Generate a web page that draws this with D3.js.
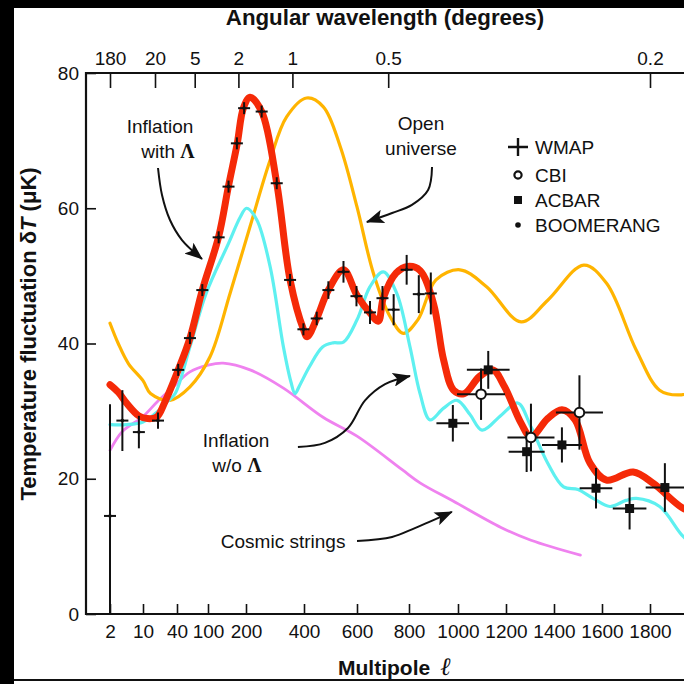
<!DOCTYPE html>
<html>
<head>
<meta charset="utf-8">
<script src="https://cdn.jsdelivr.net/npm/d3@7"></script>
<style>
  body { margin: 0; background: #fff; }
  svg { display: block; }
  text { font-family: "Liberation Sans", Arial, Helvetica, sans-serif; fill: #111; }
</style>
</head>
<body>
<svg id="chart" width="684" height="684"></svg>
<script>
// ---- axis definitions -------------------------------------------------
// The multipole axis is stretched: roughly logarithmic below l = 200, linear above.
const ellKnots      = [2, 10, 20, 30, 40, 60, 80, 100, 200, 400, 600, 800, 1000, 1200, 1400, 1600, 1800];
const ellTickLabels = [2, 10, 40, 100, 200, 400, 600, 800, 1000, 1200, 1400, 1600, 1800];
const ellTicksMinor = [20, 30, 60, 80].concat(d3.range(120, 2001, 20).filter(v => v % 200 !== 0));
const angleTickLabels = [180, 20, 5, 2, 1, 0.5, 0.2];
const angleTicksMinor = [90, 80, 70, 60, 50, 40, 30, 10, 9, 8, 7, 6, 4, 3, 0.9, 0.8, 0.7, 0.6, 0.4, 0.3];
const tempTickLabels = [0, 20, 40, 60, 80];
const tempTicksMinor = [5, 10, 15, 25, 30, 35, 45, 50, 55, 65, 70, 75];

// ---- model curves: multipole l and temperature fluctuation dT (uK) -----
const lambdaEll = [2, 4, 6, 9, 13, 19, 27, 42, 62, 88, 128, 154, 177, 193, 214, 254, 306, 352, 398, 412, 448, 492, 549, 599, 650, 682, 701, 750, 795, 845, 900, 941, 982, 1026, 1089, 1145, 1194, 1263, 1304, 1374, 1433, 1488, 1550, 1619, 1730, 1814, 1940, 2000];
const lambdaDT  = [33.9, 32.8, 31.2, 29.3, 28.9, 29.1, 31.4, 36.1, 40.8, 47.9, 55.8, 63.3, 69.6, 74.8, 76.4, 74.3, 63.7, 49.4, 42.1, 41.0, 43.7, 47.9, 50.9, 47.2, 44.5, 43.3, 46.7, 50.4, 51.4, 50.8, 45.9, 37.6, 33.1, 32.6, 35.1, 36.1, 33.6, 28.2, 26.2, 28.9, 30.2, 28.7, 22.3, 19.8, 21.0, 19.3, 15.6, 15.2];

const noLambdaEll = [2, 6, 10, 20, 30, 38, 62, 96, 154, 185, 202, 237, 283, 329, 355, 369, 385, 421, 470, 510, 549, 600, 650, 701, 753, 804, 845, 886, 940, 996, 1050, 1100, 1180, 1249, 1304, 1374, 1440, 1500, 1563, 1633, 1700, 1743, 1840, 1940, 2000];
const noLambdaDT  = [28.0, 28.0, 28.4, 30.0, 31.5, 32.6, 39.5, 47.4, 54.8, 58.7, 60.0, 58.3, 51.4, 39.5, 34.3, 32.6, 33.8, 36.6, 39.5, 40.1, 40.2, 43.5, 48.4, 50.6, 47.4, 39.5, 32.6, 28.7, 30.4, 31.6, 29.5, 27.2, 29.4, 31.2, 27.7, 22.3, 18.8, 18.4, 17.1, 15.9, 16.8, 17.1, 15.9, 11.4, 10.0];

const openEll = [2, 4, 6.5, 10, 15, 32, 62, 105, 158, 214, 283, 340, 410, 473, 537, 600, 663, 727, 778, 836, 910, 1008, 1119, 1263, 1374, 1524, 1619, 1743, 1840, 1922, 2000];
const openDT  = [43.0, 40.0, 37.0, 34.5, 32.6, 31.6, 33.6, 38.0, 47.4, 57.3, 67.1, 73.5, 76.3, 75.0, 69.1, 60.2, 50.4, 44.0, 41.5, 43.5, 49.4, 50.9, 48.4, 43.2, 46.4, 51.6, 48.9, 39.0, 33.1, 32.4, 33.2];

const stringsEll = [2, 5, 10, 20, 36, 62, 100, 140, 214, 329, 472, 600, 775, 845, 980, 1179, 1304, 1510];
const stringsDT  = [24.2, 27.0, 29.2, 31.5, 33.6, 35.8, 36.8, 37.1, 36.1, 33.4, 29.1, 26.3, 21.3, 19.4, 16.7, 12.8, 10.9, 8.7];

// ---- measurements --------------------------------------------------------
const wmapEll = [2, 5, 9, 20, 42, 62, 88, 128, 154, 176, 195, 254, 306, 352, 398, 448, 492, 549, 598, 650, 698, 741, 791, 840, 889];
const wmapDT  = [14.5, 28.6, 26.9, 28.6, 36.1, 40.8, 47.9, 55.7, 63.2, 69.6, 74.8, 74.3, 63.7, 49.4, 42.1, 43.7, 47.9, 50.6, 47.0, 44.6, 46.7, 45.0, 50.9, 47.3, 47.4];
const wmapErr = [16.5, 4.5, 2.4, 1.2, 0.8, 0.8, 0.8, 0.8, 0.8, 0.8, 0.8, 0.7, 0.8, 0.8, 0.8, 1.0, 1.3, 1.6, 1.5, 1.7, 1.8, 2.3, 2.2, 2.8, 3.1];

const cbiEll = [1096, 1304, 1506];
const cbiDT  = [32.5, 26.1, 29.8];
const cbiErr = [3.8, 5.0, 5.5];
const cbiBin = [100, 98, 98];

const acbarEll = [979, 1126, 1286, 1433, 1575, 1715, 1862];
const acbarDT  = [28.2, 36.1, 24.0, 25.0, 18.6, 15.6, 18.7];
const acbarErr = [2.7, 2.8, 3.0, 2.6, 3.0, 3.1, 3.6];
const acbarBin = [67, 89, 75, 83, 68, 70, 80];

const legendNames = ["WMAP", "CBI", "ACBAR", "BOOMERANG"];

// ---- annotations, anchored in (l, dT) ------------------------------------
const notes = [
  { lines: ["Inflation", "with |Λ"], at: [[22, 71.1], [30, 67.4]] },
  { lines: ["Open", "universe"], at: [[849, 71.6], [849, 67.9]] },
  { lines: ["Inflation", "w/o |Λ"], at: [[174, 24.7], [176, 21.0]] },
  { lines: ["Cosmic strings"], at: [[328, 9.8]] }
];
const arrows = [
  [[20, 65.95], [24, 61.96], [32.2, 58.26], [48.3, 55.3], [87.4, 52.5]],
  [[894, 66.1], [878, 62.7], [812, 60.5], [735, 59.3], [638, 57.97]],
  [[379, 24.7], [479, 25.3], [566, 27.5], [631, 31.6], [708, 34.0], [804, 35.2]],
  [[600, 10.8], [735, 11.4], [824, 12.7], [975, 15.1]]
];

// ---- layout ----------------------------------------------------------------
const W = 684, H = 684;
const plotLeft = 86, plotTop = 73, plotBottom = 614;
const svg = d3.select("#chart");

const x = d3.scaleLinear()
  .domain(ellKnots)
  .range([110, 143, 158, 168, 177, 189, 198.5, 208, 246, 304, 357, 409, 458, 506, 554, 602, 650]);
const y = d3.scaleLinear().domain([0, 80]).range([plotBottom, plotTop]);

svg.append("rect").attr("width", W).attr("height", H).attr("fill", "#fff");

// axes (ticks point into the plot)
const gx = svg.append("g").attr("transform", `translate(0,${plotBottom})`);
gx.call(d3.axisBottom(x).tickValues(ellTicksMinor).tickSize(-5).tickFormat(""));
gx.call(d3.axisBottom(x).tickValues(ellTickLabels).tickSize(-10).tickPadding(11).tickFormat(d3.format("d")));

const gt = svg.append("g").attr("transform", `translate(0,${plotTop})`);
gt.call(d3.axisTop(x).tickValues(angleTicksMinor.map(a => 360 / a)).tickSize(-7).tickFormat(""));
gt.call(d3.axisTop(x).tickValues(angleTickLabels.map(a => 360 / a)).tickSize(-15).tickPadding(8)
  .tickFormat(l => String(+(360 / l).toFixed(1))));

const gy = svg.append("g").attr("transform", `translate(${plotLeft},0)`);
gy.call(d3.axisLeft(y).tickValues(tempTicksMinor).tickSize(-7).tickFormat(""));
gy.call(d3.axisLeft(y).tickValues(tempTickLabels).tickSize(-10).tickPadding(7));

svg.selectAll(".domain").remove();
svg.selectAll(".tick line").attr("stroke", "#111").attr("stroke-width", 1.6);
svg.selectAll(".tick text").attr("font-size", 19).attr("font-family", "Liberation Sans, Arial, sans-serif").attr("fill", "#111");

// frame
svg.append("path")
  .attr("d", `M${W + 10},${plotTop}H${plotLeft}V${plotBottom}H${W + 10}`)
  .attr("stroke", "#111").attr("stroke-width", 2.2).attr("fill", "none");

// axis titles
svg.append("text").attr("x", 385).attr("y", 25).attr("text-anchor", "middle")
  .attr("font-size", 22.3).attr("font-weight", "bold").text("Angular wavelength (degrees)");

const xt = svg.append("text").attr("x", 338).attr("y", 675)
  .attr("font-size", 21).attr("font-weight", "bold");
xt.append("tspan").text("Multipole ");
xt.append("tspan").attr("font-family", "DejaVu Serif, serif").attr("font-style", "italic")
  .attr("font-weight", "normal").attr("font-size", 25).attr("dx", 4).text("ℓ");

const yt = svg.append("text").attr("transform", "translate(36,334) rotate(-90)")
  .attr("text-anchor", "middle").attr("font-size", 22).attr("font-weight", "bold");
yt.append("tspan").text("Temperature fluctuation δ");
yt.append("tspan").attr("font-style", "italic").text("T");
yt.append("tspan").text(" (μK)");

// model curves
const line = d3.line().x(d => x(d[0])).y(d => y(d[1])).curve(d3.curveCatmullRom.alpha(0.5));
const curves = [
  { ell: stringsEll, dT: stringsDT, color: "#ef82ef", w: 2.8 },
  { ell: openEll, dT: openDT, color: "#ffb400", w: 3.2 },
  { ell: noLambdaEll, dT: noLambdaDT, color: "#5ef0f0", w: 3.2 },
  { ell: lambdaEll, dT: lambdaDT, color: "#f52a08", w: 7 }
];
curves.forEach(c => {
  svg.append("path")
    .datum(d3.zip(c.ell, c.dT))
    .attr("d", line)
    .attr("fill", "none")
    .attr("stroke", c.color)
    .attr("stroke-width", c.w)
    .attr("stroke-linejoin", "round")
    .attr("stroke-linecap", "round");
});

// measurements
const pts = svg.append("g").attr("stroke", "#111").attr("stroke-width", 2);

// WMAP: crosses
d3.zip(wmapEll, wmapDT, wmapErr).forEach(([l, t, e]) => {
  const cx = x(l), cy = y(t);
  const up = Math.max(cy - y(t + e), 6), dn = Math.max(y(Math.max(t - e, 0)) - cy, 6);
  pts.append("line").attr("x1", cx - 6).attr("x2", cx + 6).attr("y1", cy).attr("y2", cy);
  pts.append("line").attr("x1", cx).attr("x2", cx).attr("y1", cy - up).attr("y2", cy + dn);
  pts.append("circle").attr("cx", cx).attr("cy", cy).attr("r", 1.8).attr("fill", "#111").attr("stroke", "none");
});

// error bars for CBI and ACBAR
function errorBars(ells, dts, errs, bins) {
  d3.zip(ells, dts, errs, bins).forEach(([l, t, e, b]) => {
    pts.append("line").attr("x1", x(l - b)).attr("x2", x(l + b)).attr("y1", y(t)).attr("y2", y(t));
    pts.append("line").attr("x1", x(l)).attr("x2", x(l)).attr("y1", y(t + e)).attr("y2", y(t - e));
  });
}
errorBars(acbarEll, acbarDT, acbarErr, acbarBin);
errorBars(cbiEll, cbiDT, cbiErr, cbiBin);

d3.zip(acbarEll, acbarDT).forEach(([l, t]) => {
  pts.append("rect").attr("x", x(l) - 4.5).attr("y", y(t) - 4.5).attr("width", 9).attr("height", 9)
    .attr("fill", "#111").attr("stroke", "none");
});
d3.zip(cbiEll, cbiDT).forEach(([l, t]) => {
  pts.append("circle").attr("cx", x(l)).attr("cy", y(t)).attr("r", 4.8)
    .attr("fill", "#fff").attr("stroke", "#111").attr("stroke-width", 2);
});

// legend
const lg = svg.append("g").attr("transform", "translate(518,147)");
const rowY = [0, 28, 53, 78];
lg.append("path").attr("d", "M-10,0H10M0,-9V9").attr("stroke", "#111").attr("stroke-width", 2.4);
lg.append("circle").attr("cy", rowY[1]).attr("r", 3.6).attr("fill", "#fff").attr("stroke", "#111").attr("stroke-width", 2.2);
lg.append("rect").attr("x", -4).attr("y", rowY[2] - 4).attr("width", 8).attr("height", 8).attr("fill", "#111");
lg.append("circle").attr("cy", rowY[3]).attr("r", 2.8).attr("fill", "#111");
legendNames.forEach((n, i) => {
  lg.append("text").attr("x", 17).attr("y", rowY[i] + 7).attr("font-size", 19).text(n);
});

// annotation text
notes.forEach(n => {
  n.lines.forEach((s, i) => {
    const t = svg.append("text").attr("x", x(n.at[i][0])).attr("y", y(n.at[i][1]))
      .attr("text-anchor", "middle").attr("font-size", 19);
    const parts = s.split("|");
    t.append("tspan").text(parts[0]);
    if (parts[1]) {
      t.append("tspan").attr("font-family", "Liberation Serif, serif").attr("font-weight", "bold")
        .attr("font-size", 20).text(parts[1]);
    }
  });
});

// arrows
svg.append("defs").append("marker")
  .attr("id", "head").attr("viewBox", "0 0 18 14").attr("refX", 17).attr("refY", 7)
  .attr("markerWidth", 18).attr("markerHeight", 14).attr("markerUnits", "userSpaceOnUse")
  .attr("orient", "auto")
  .append("path").attr("d", "M0,0L18,7L0,14L4,7Z").attr("fill", "#111");

const arrowLine = d3.line().x(d => x(d[0])).y(d => y(d[1])).curve(d3.curveCatmullRom.alpha(0.5));
arrows.forEach(a => {
  svg.append("path").attr("d", arrowLine(a)).attr("fill", "none")
    .attr("stroke", "#111").attr("stroke-width", 2).attr("marker-end", "url(#head)");
});

// dark edges of the scanned page
svg.append("rect").attr("x", 0).attr("y", 0).attr("width", W).attr("height", 8).attr("fill", "#000");
svg.append("rect").attr("x", 0).attr("y", 0).attr("width", 14).attr("height", H).attr("fill", "#000");
svg.append("rect").attr("x", 14).attr("y", 679).attr("width", W).attr("height", 2).attr("fill", "#111");
</script>
</body>
</html>
